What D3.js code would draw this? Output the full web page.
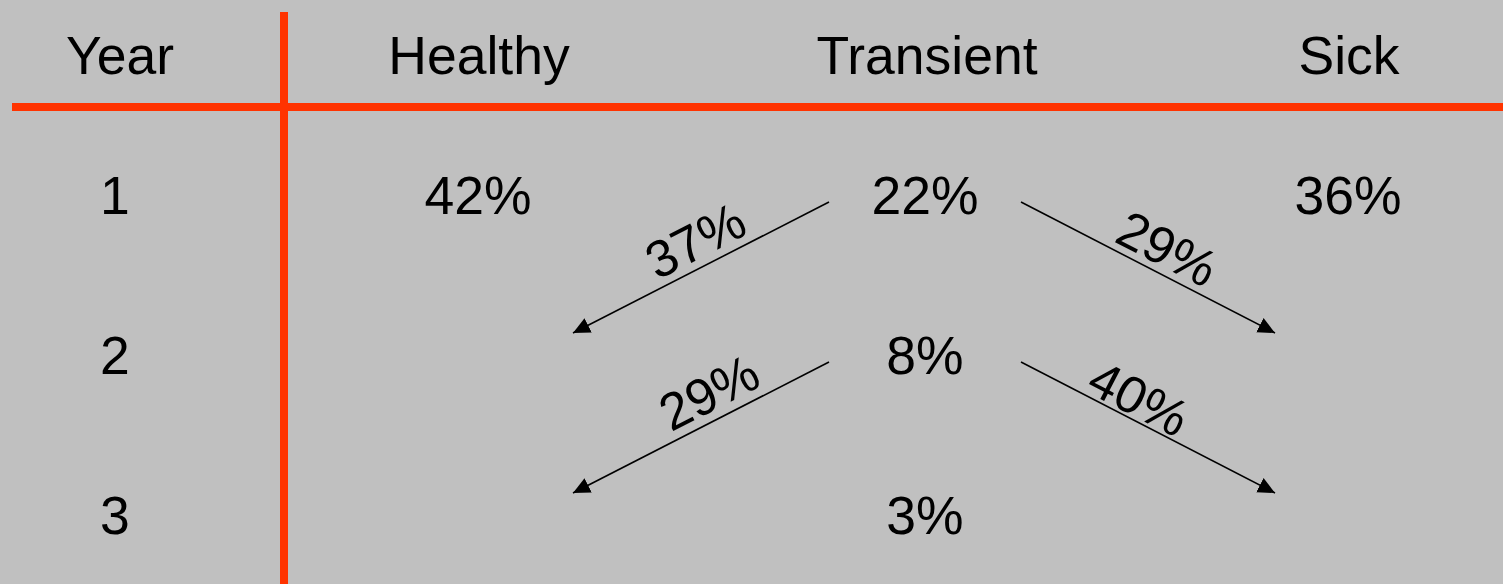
<!DOCTYPE html>
<html>
<head>
<meta charset="utf-8">
<script src="https://cdn.jsdelivr.net/npm/d3@7"></script>
<style>
  html, body { margin: 0; padding: 0; background: #c0c0c0; }
  svg { display: block; }
</style>
</head>
<body>
<svg id="chart" width="1503" height="584"></svg>
<script>
// ---- data ----
const columns = ["Year", "Healthy", "Transient", "Sick"];
const years = ["1", "2", "3"];
const healthy = ["42%", "", ""];
const transient = ["22%", "8%", "3%"];
const sick = ["36%", "", ""];
// transitions out of the Transient state: from year index, target column, label
const transFrom = [0, 0, 1, 1];
const transTo = ["Healthy", "Sick", "Healthy", "Sick"];
const transLabel = ["37%", "29%", "29%", "40%"];

// ---- layout ----
const W = 1503, H = 584;
const svg = d3.select("#chart");
const font = "'Liberation Sans', Arial, Helvetica, sans-serif";
const red = "#ff3300";
const fs = "53.5px";
// label placement along each arrow (fraction) and distance of label centre from the line
const labelAlong = [0.475, 0.53, 0.42, 0.425];
const labelAway = [27, 26, 28, 22];

const xHead = d3.scaleOrdinal().domain(columns).range([120, 479, 927, 1349]);
const xBody = d3.scaleOrdinal().domain(columns).range([115, 478, 925, 1348]);
const y = d3.scalePoint().domain(years).range([214, 534]);
const headerY = 74;

svg.append("rect").attr("width", W).attr("height", H).attr("fill", "#c0c0c0");

// grid lines
svg.append("line").attr("x1", 12).attr("x2", W).attr("y1", 107).attr("y2", 107)
  .attr("stroke", red).attr("stroke-width", 8);
svg.append("line").attr("x1", 284).attr("x2", 284).attr("y1", 12).attr("y2", H)
  .attr("stroke", red).attr("stroke-width", 8);

// header
svg.selectAll("text.head").data(columns).join("text")
  .attr("class", "head")
  .attr("x", d => xHead(d)).attr("y", headerY)
  .attr("text-anchor", "middle")
  .style("font-family", font).style("font-size", fs).attr("fill", "#000")
  .text(d => d);

// body cells
const cells = [];
years.forEach((yr, i) => {
  cells.push({col: "Year", row: yr, t: yr});
  cells.push({col: "Healthy", row: yr, t: healthy[i]});
  cells.push({col: "Transient", row: yr, t: transient[i]});
  cells.push({col: "Sick", row: yr, t: sick[i]});
});
svg.selectAll("text.cell").data(cells.filter(c => c.t !== "")).join("text")
  .attr("class", "cell")
  .attr("x", d => xBody(d.col)).attr("y", d => y(d.row))
  .attr("text-anchor", "middle")
  .style("font-family", font).style("font-size", fs).attr("fill", "#000")
  .text(d => d.t);

// arrow marker
svg.append("defs").append("marker")
  .attr("id", "ah").attr("markerUnits", "userSpaceOnUse")
  .attr("viewBox", "0 -9 17 18").attr("refX", 17).attr("refY", 0)
  .attr("markerWidth", 17).attr("markerHeight", 18).attr("orient", "auto")
  .append("path").attr("d", "M0,-8L17,0L0,8Z").attr("fill", "#000");

const arrows = transFrom.map((fi, i) => {
  const dir = transTo[i] === "Healthy" ? -1 : 1;
  const cx = xBody("Transient");
  const y0 = y(years[fi]) - 12;
  const y1 = y(years[fi + 1]) - 41;
  return {x0: cx + dir * 96, y0, x1: cx + dir * 351 - 1, y1, label: transLabel[i], dir, i};
});

const g = svg.selectAll("g.arrow").data(arrows).join("g").attr("class", "arrow");
g.append("line")
  .attr("x1", d => d.x0).attr("y1", d => d.y0)
  .attr("x2", d => d.x1).attr("y2", d => d.y1)
  .attr("stroke", "#000").attr("stroke-width", 1.6)
  .attr("marker-end", "url(#ah)");

g.append("text")
  .attr("transform", d => {
    const t = labelAlong[d.i];
    const mx = d.x0 + (d.x1 - d.x0) * t, my = d.y0 + (d.y1 - d.y0) * t;
    let ang = Math.atan2(d.y1 - d.y0, d.x1 - d.x0);
    if (d.dir < 0) ang = Math.atan2(d.y0 - d.y1, d.x0 - d.x1);
    const off = labelAway[d.i];
    const nx = Math.sin(ang) * off, ny = -Math.cos(ang) * off;
    return `translate(${mx + nx},${my + ny}) rotate(${ang * 180 / Math.PI})`;
  })
  .attr("y", 18.6)
  .attr("text-anchor", "middle")
  .style("font-family", font).style("font-size", "52px").attr("fill", "#000")
  .text(d => d.label);
</script>
</body>
</html>
